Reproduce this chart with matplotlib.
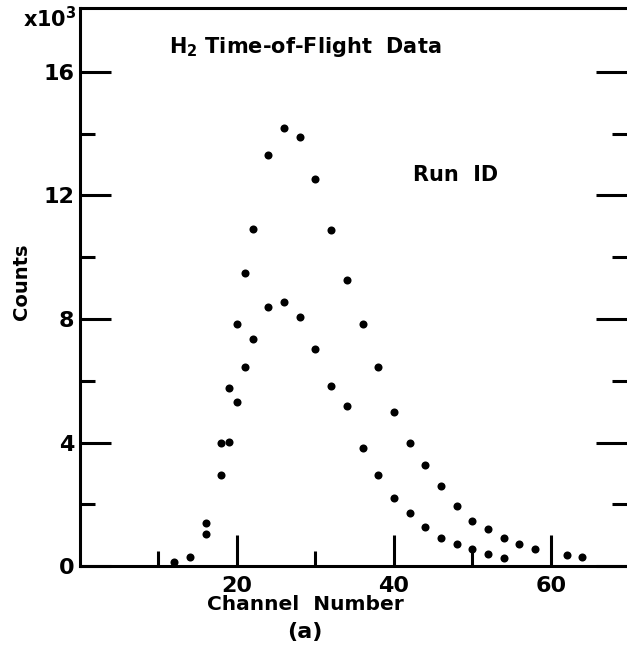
import numpy as np
import matplotlib
matplotlib.use("Agg")
import matplotlib.pyplot as plt
from matplotlib.ticker import FixedLocator

"""
DATA (counts in units of 10^3)
"""
#upper run
chan_hi = [16, 18, 19, 20, 21, 22, 24, 26, 28, 30, 32, 34, 36, 38, 40, 42,
           44, 46, 48, 50, 52, 54, 56, 58, 62, 64]
counts_hi = [1.39, 3.98, 5.77, 7.83, 9.48, 10.92, 13.3, 14.18, 13.9, 12.52,
             10.87, 9.27, 7.85, 6.43, 4.99, 3.97, 3.26, 2.58, 1.94, 1.47,
             1.19, 0.92, 0.71, 0.56, 0.37, 0.28]
#lower run
chan_lo = [12, 14, 16, 18, 19, 20, 21, 22, 24, 26, 28, 30, 32, 34, 36, 38,
           40, 42, 44, 46, 48, 50, 52, 54]
counts_lo = [0.12, 0.29, 1.05, 2.94, 4.02, 5.31, 6.46, 7.35, 8.40, 8.56,
             8.07, 7.04, 5.84, 5.18, 3.83, 2.95, 2.21, 1.73, 1.26, 0.91,
             0.70, 0.56, 0.38, 0.25]

x_major = [20, 40, 60]
x_minor = [10, 30, 50]
y_major = [0, 4, 8, 12, 16]
y_minor = [2, 6, 10, 14]

"""
PLOT
"""
plt.rcParams['font.family'] = 'DejaVu Sans'
plt.rcParams['mathtext.default'] = 'regular'

fig = plt.figure(figsize=(6.27, 6.53), dpi=100)
ax = fig.add_axes([0.1276, 0.1332, 0.8724, 0.8545])

ax.plot(chan_hi, counts_hi, 'o', color='black', markersize=5.8, mec='none')
ax.plot(chan_lo, counts_lo, 'o', color='black', markersize=5.8, mec='none')

ax.set_xlim(0, 69.7)
ax.set_ylim(0, 18.07)

ax.xaxis.set_major_locator(FixedLocator(x_major))
ax.xaxis.set_minor_locator(FixedLocator(x_minor))
ax.yaxis.set_major_locator(FixedLocator(y_major))
ax.yaxis.set_minor_locator(FixedLocator(y_minor))

ax.tick_params(which='both', direction='in', width=2.2, color='black',
               top=False, right=True, labelsize=16)
ax.tick_params(which='major', length=22)
ax.tick_params(which='minor', length=11)
ax.tick_params(axis='x', pad=7)
ax.tick_params(axis='y', pad=4)
for lab in ax.get_xticklabels() + ax.get_yticklabels():
    lab.set_fontweight('bold')

for s in ['left', 'bottom', 'top']:
    ax.spines[s].set_linewidth(2.2)
ax.spines['right'].set_visible(False)

#labels and annotations
ax.text(11.3, 16.8, r'H$_2$ Time-of-Flight  Data', fontsize=15,
        fontweight='bold', va='center', ha='left')
ax.text(42.4, 12.66, 'Run  ID', fontsize=15, fontweight='bold',
        va='center', ha='left')
fig.text(0.037, 0.972, r'x10$^3$', fontsize=15, fontweight='bold',
         va='center', ha='left')
fig.text(0.035, 1 - 282/653, 'Counts', fontsize=14, fontweight='bold',
         rotation=90, va='center', ha='center')
fig.text(305/627, 1 - 605/653, 'Channel  Number', fontsize=14.5,
         fontweight='bold', va='center', ha='center')
fig.text(305/627, 1 - 632/653, '(a)', fontsize=16, fontweight='bold',
         va='center', ha='center')

fig.savefig('out.png', dpi=100)
